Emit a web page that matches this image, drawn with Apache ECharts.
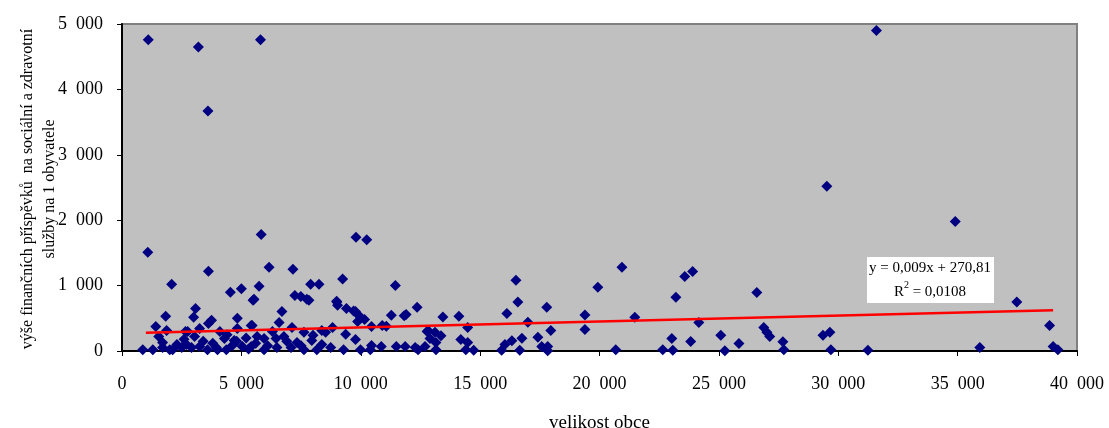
<!DOCTYPE html>
<html>
<head>
<meta charset="utf-8">
<script src="https://cdn.jsdelivr.net/npm/echarts@6/dist/echarts.min.js"></script>
<style>
  html, body { margin: 0; padding: 0; background: #fff; }
  #chart { width: 1109px; height: 428px; }
</style>
</head>
<body>
<div id="chart"></div>
<script>
// velikost obce (x) and příspěvky na 1 obyvatele (y)
const obce = [
  1100, 3200, 5800, 3600, 31600, 29520, 34900,
  1080, 5830, 9800, 10250, 6160, 2080, 3620, 4540, 5000, 5530, 7160, 7900, 8250, 7740, 7240, 9240, 9000,
  9700, 10000, 10160, 11070, 11450, 11820, 12360, 12780, 13440, 14110,
  3080, 1830, 3000, 3750, 3620, 1415, 1870, 2750, 3250, 4830, 1540, 3040, 4290, 1700, 870, 1290, 1700,
  2120, 2500, 2700, 2910, 3250, 3580, 3950, 4370, 4620, 5040, 2660, 4830, 5450,
  5740, 7490, 7830, 5490, 8990, 9030, 9400, 9780, 9950, 9870, 6700, 6580, 5410, 7120, 7620, 8370, 8820,
  8530, 9370, 9780, 7950, 8370, 7330, 6450, 5950, 5660, 6780, 7080, 7620, 8740, 9280, 9990, 10400, 5410,
  5950, 6490, 8160,
  11280, 11900, 10450, 10900, 14480, 12820, 13110, 13360, 12900, 13150, 14190, 14480, 10450, 10860,
  11490, 11860, 12280, 12400, 12690, 13150, 14400, 14730,
  16500, 16580, 16120, 17000, 17790, 17960, 17420, 16750, 16330, 16040, 15900, 16660, 17580, 17830, 17830,
  19390, 19390, 19930, 20680, 20940, 21480,
  23030, 22650, 23070, 23200, 23570, 23900, 23820, 24160, 25080, 25250, 25840, 26590, 26880, 27010, 27130,
  27680, 27720,
  37480, 38850, 39000, 39200, 29360, 29650, 29690, 31240, 35930,
  4800, 5200, 4400, 2300, 2600, 3400, 3800, 4100, 5300, 5600, 6100, 6300, 6900, 7500, 8000, 2000, 4000, 4700
];
const prispevek = [
  4760, 4650, 4760, 3670, 4900, 2520, 1980,
  1510, 1780, 1740, 1700, 1280, 1020, 1220, 900, 950, 790, 1250, 1020, 1020, 790, 850, 1100, 750,
  610, 510, 480, 380, 1000, 540, 670, 300, 520, 530,
  650, 530, 515, 470, 420, 375, 315, 300, 345, 500, 220, 220, 190, 130, 20, 20, 55,
  20, 55, 100, 55, 70, 20, 55, 20, 85, 70, 300, 345, 390,
  990, 835, 775, 775, 760, 700, 650, 605, 530, 450, 605, 435, 390, 360, 285, 315, 360,
  285, 255, 175, 160, 100, 130, 190, 190, 220, 220, 55, 20, 55, 20, 20, 20, 70,
  20, 55, 20,
  545, 560, 375, 390, 360, 315, 285, 235, 190, 130, 175, 130, 85, 70,
  70, 70, 55, 20, 70, 20, 20, 10,
  1080, 750, 575, 440, 670, 315, 210, 195, 155, 100, 10, 10, 70, 70, 5,
  550, 330, 975, 20, 1280, 515,
  190, 20, 10, 820, 1140, 1215, 145, 435, 240, 5, 115, 895, 360, 285, 220,
  140, 20,
  750, 390, 70, 20, 240, 285, 20, 10, 55,
  150, 200, 250, 100, 180, 150, 120, 300, 30, 120, 80, 300, 150, 80, 240, 20, 20, 160
];
// lineární trend (konce čáry)
const trendX = [1000, 39000];
const trendY = [280, 622];

const xTicks = { min: 0, max: 40000, step: 5000 };
const yTicks = { min: 0, max: 5000, step: 1000 };

const points = obce.map((x, i) => [x, prispevek[i]]);
const trend = trendX.map((x, i) => [x, trendY[i]]);

// thousands separated by a space, like "5 000"
const fmt = v => String(v).replace(/\B(?=(\d{3})+(?!\d))/g, '  ');
const serif = '"Liberation Serif", "Times New Roman", serif';

const chart = echarts.init(document.getElementById('chart'));
chart.setOption({
  animation: false,
  grid: {
    left: 122, right: 32, top: 24, bottom: 77,
    outerBoundsMode: 'none',
    show: true,
    backgroundColor: '#C0C0C0',
    borderColor: '#808080',
    borderWidth: 2
  },
  xAxis: {
    type: 'value',
    min: xTicks.min, max: xTicks.max, interval: xTicks.step,
    name: 'velikost obce',
    nameLocation: 'middle',
    nameGap: 63,
    nameTextStyle: { fontFamily: serif, fontSize: 19, color: '#000' },
    splitLine: { show: false },
    axisLine: { lineStyle: { color: '#000', width: 2 } },
    axisTick: { length: 5, lineStyle: { color: '#000' } },
    axisLabel: { formatter: fmt, fontFamily: serif, fontSize: 18, color: '#000', margin: 24 }
  },
  yAxis: {
    type: 'value',
    min: yTicks.min, max: yTicks.max, interval: yTicks.step,
    splitLine: { show: false },
    axisLine: { show: true, lineStyle: { color: '#000', width: 2 } },
    axisTick: { show: true, length: 5, lineStyle: { color: '#000' } },
    axisLabel: { formatter: fmt, fontFamily: serif, fontSize: 18, color: '#000', margin: 19 }
  },
  graphic: [
    {
      type: 'text',
      x: 39, y: 189,
      rotation: Math.PI / 2,
      style: {
        text: 'výše finančních příspěvků  na sociální a zdravotní\nslužby na 1 obyvatele',
        font: '16px ' + serif,
        fill: '#000',
        align: 'center',
        verticalAlign: 'middle',
        lineHeight: 22
      }
    },
    {
      type: 'rect',
      shape: { x: 867, y: 257, width: 127, height: 46 },
      style: { fill: '#fff' },
      z: 10
    },
    {
      type: 'text',
      x: 930, y: 280,
      z: 11,
      style: {
        text: 'y = 0,009x + 270,81\n{n|R}{s|2}{n| = 0,0108}',
        font: '15px ' + serif,
        fill: '#000',
        align: 'center',
        verticalAlign: 'middle',
        lineHeight: 24,
        rich: {
          n: { fontFamily: serif, fontSize: 15, color: '#000' },
          s: { fontFamily: serif, fontSize: 10, color: '#000', verticalAlign: 'top', padding: [0, 0, 8, 0] }
        }
      }
    }
  ],
  series: [
    {
      type: 'scatter',
      data: points,
      symbol: 'diamond',
      symbolSize: 11,
      itemStyle: { color: '#000080', opacity: 1 }
    },
    {
      type: 'line',
      data: trend,
      showSymbol: false,
      lineStyle: { color: '#FF0000', width: 2.5 },
      z: 3
    }
  ]
});
</script>
</body>
</html>
